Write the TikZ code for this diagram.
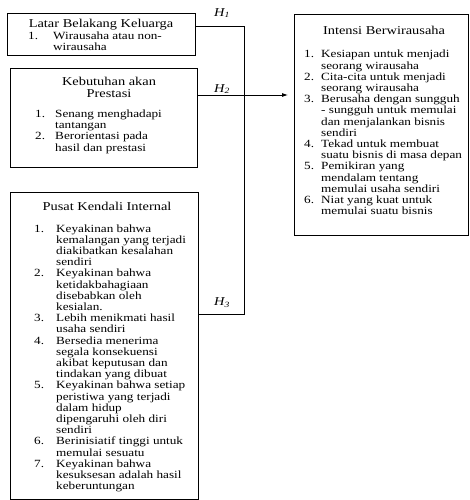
\documentclass[tikz,border=0pt]{standalone}
\usepackage{fontspec}
\setmainfont{Liberation Serif}[FakeStretch=1.2]
\usetikzlibrary{arrows.meta,positioning}
\newcommand{\ttlfont}{\fontsize{12}{12}\selectfont}
\newcommand{\lstfont}{\fontsize{11}{11.2}\selectfont}

\begin{document}
\begin{tikzpicture}[x=1pt,y=-1pt,
    box/.style={draw,line width=0.8pt,inner sep=0pt,anchor=north west},
    ttl/.style={anchor=base,inner sep=0pt,font=\ttlfont},
    lst/.style={anchor=base west,inner sep=0pt,font=\lstfont},
    hyp/.style={inner sep=0pt,font=\ttlfont\itshape}]
    \useasboundingbox (0,0) rectangle (470,500);

    % boxes
    \node[box, minimum width=188pt, minimum height=42pt] (kel) at (7,13) {};
    \node[box, minimum width=187pt, minimum height=99pt] (kbt) at (10,68) {};
    \node[box, minimum width=188pt, minimum height=307pt] (pus) at (10,192) {};
    \node[box, minimum width=174pt, minimum height=221pt] (ints) at (294,14) {};

    \node[ttl] (kelT) at (101,28) {Latar Belakang Keluarga};
    \node[lst] (kelL) at (28,39.5) {\begin{tabular}[t]{@{}p{25pt}@{}l@{}}
        1. & Wirausaha atau non-\\
           & wirausaha
    \end{tabular}};

    \node[ttl] (kbtT) at (109,86) {\begin{tabular}[t]{@{}c@{}}
        Kebutuhan akan\\[-0.5pt] Prestasi
    \end{tabular}};
    \node[lst] (kbtL) at (35,117.5) {\begin{tabular}[t]{@{}p{20pt}@{}l@{}}
        1. & Senang menghadapi\\
           & tantangan\\
        2. & Berorientasi pada\\
           & hasil dan prestasi
    \end{tabular}};

    \node[ttl] (pusT) at (107,210.5) {Pusat Kendali Internal};
    \node[lst] (pusL) at (34,232) {\begin{tabular}[t]{@{}p{22pt}@{}l@{}}
        1. & Keyakinan bahwa\\
           & kemalangan yang terjadi\\
           & diakibatkan kesalahan\\
           & sendiri\\
        2. & Keyakinan bahwa\\
           & ketidakbahagiaan\\
           & disebabkan oleh\\
           & kesialan.\\
        3. & Lebih menikmati hasil\\
           & usaha sendiri\\
        4. & Bersedia menerima\\
           & segala konsekuensi\\
           & akibat keputusan dan\\
           & tindakan yang dibuat\\
        5. & Keyakinan bahwa setiap\\
           & peristiwa yang terjadi\\
           & dalam hidup\\
           & dipengaruhi oleh diri\\
           & sendiri\\
        6. & Berinisiatif tinggi untuk\\
           & memulai sesuatu\\
        7. & Keyakinan bahwa\\
           & kesuksesan adalah hasil\\
           & keberuntungan
    \end{tabular}};

    \node[ttl] (intT) at (384,34.5) {Intensi Berwirausaha};
    \node[lst] (intL) at (304,58) {\begin{tabular}[t]{@{}p{17pt}@{}l@{}}
        1. & Kesiapan untuk menjadi\\
           & seorang wirausaha\\
        2. & Cita-cita untuk menjadi\\
           & seorang wirausaha\\
        3. & Berusaha dengan sungguh\\
           & - sungguh untuk memulai\\
           & dan menjalankan bisnis\\
           & sendiri\\
        4. & Tekad untuk membuat\\
           & suatu bisnis di masa depan\\
        5. & Pemikiran yang\\
           & mendalam tentang\\
           & memulai usaha sendiri\\
        6. & Niat yang kuat untuk\\
           & memulai suatu bisnis
    \end{tabular}};

    % hypotheses
    \coordinate (j1) at (244,26);
    \coordinate (j2) at (244,95);
    \coordinate (j3) at (244,314);
    \draw[line width=0.8pt] (kel.east |- j1) -- (j1) -- (j3) -- (pus.east |- j3);
    \draw[line width=0.8pt] (kbt.east |- j2) -- (j2);
    \draw[line width=0.8pt, -{Latex[length=6pt,width=4pt]}, shorten >=6pt] (j2) -- (ints.west |- j2);

    \node[hyp] (h1) at (222,13) {H\textsubscript{1}};
    \node[hyp] (h2) at (222,89) {H\textsubscript{2}};
    \node[hyp] (h3) at (222,303) {H\textsubscript{3}};
\end{tikzpicture}
\end{document}
